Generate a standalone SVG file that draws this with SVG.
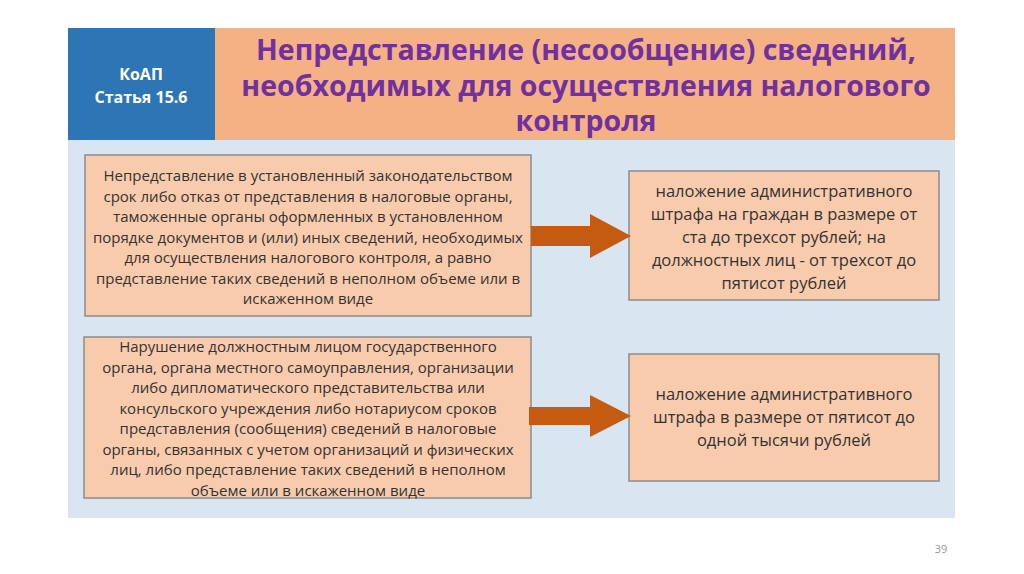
<svg xmlns="http://www.w3.org/2000/svg" width="1024" height="574" viewBox="0 0 1024 574">
<style>
.t{font-family:"Open Sans","Liberation Sans",sans-serif;text-anchor:middle}
.s{font-size:15px;fill:#333}
.r{font-size:16.5px;fill:#333}
.box{fill:#f8cbad;stroke:#8c8c8c;stroke-width:1.5}
.arr{fill:#c55a11}
</style>
<rect width="1024" height="574" fill="#fff"/>
<rect x="68" y="140" width="887" height="378" fill="#dae5f2"/>
<g id="header">
<rect x="68" y="28" width="147" height="112" fill="#2e75b6"/>
<rect x="215" y="28" width="740" height="112" fill="#f4b183"/>
<text class="t" x="141" y="80" font-size="16" font-weight="bold" fill="#fff">КоАП</text>
<text class="t" x="141" y="103" font-size="16" font-weight="bold" fill="#fff">Статья 15.6</text>
<text class="t" x="586" y="60" font-size="28.5" font-weight="bold" fill="#7030a0">Непредставление (несообщение) сведений,</text>
<text class="t" x="586" y="96" font-size="28.5" font-weight="bold" fill="#7030a0">необходимых для осуществления налогового</text>
<text class="t" x="586" y="131" font-size="28.5" font-weight="bold" fill="#7030a0">контроля</text>
</g>
<g id="n1">
<rect class="box" x="85" y="155" width="446" height="161"/>
<text class="t s" x="308"><tspan x="308" y="181">Непредставление в установленный законодательством</tspan><tspan x="308" y="202">срок либо отказ от представления в налоговые органы,</tspan><tspan x="308" y="222">таможенные органы оформленных в установленном</tspan><tspan x="308" y="243">порядке документов и (или) иных сведений, необходимых</tspan><tspan x="308" y="263">для осуществления налогового контроля, а равно</tspan><tspan x="308" y="284">представление таких сведений в неполном объеме или в</tspan><tspan x="308" y="304">искаженном виде</tspan></text>
</g>
<g id="n2">
<rect class="box" x="629" y="171" width="310" height="129"/>
<text class="t r" x="784"><tspan x="784" y="197">наложение административного</tspan><tspan x="784" y="220">штрафа на граждан в размере от</tspan><tspan x="784" y="243">ста до трехсот рублей; на</tspan><tspan x="784" y="266">должностных лиц - от трехсот до</tspan><tspan x="784" y="289">пятисот рублей</tspan></text>
</g>
<g id="n3">
<rect class="box" x="84" y="337" width="447" height="161"/>
<text class="t s" x="308"><tspan x="308" y="352">Нарушение должностным лицом государственного</tspan><tspan x="308" y="373">органа, органа местного самоуправления, организации</tspan><tspan x="308" y="393">либо дипломатического представительства или</tspan><tspan x="308" y="414">консульского учреждения либо нотариусом сроков</tspan><tspan x="308" y="434">представления (сообщения) сведений в налоговые</tspan><tspan x="308" y="455">органы, связанных с учетом организаций и физических</tspan><tspan x="308" y="475">лиц, либо представление таких сведений в неполном</tspan><tspan x="308" y="496">объеме или в искаженном виде</tspan></text>
</g>
<g id="n4">
<rect class="box" x="629" y="354" width="310" height="127"/>
<text class="t r" x="784"><tspan x="784" y="400">наложение административного</tspan><tspan x="784" y="423">штрафа в размере от пятисот до</tspan><tspan x="784" y="446">одной тысячи рублей</tspan></text>
</g>
<g id="connectors">
<path class="arr" d="M531 226 H590 V214 L631 236 L590 258 V246 H531 Z"/>
<path class="arr" d="M529 407 H590 V395 L631 416 L590 437 V425 H529 Z"/>
</g>
<text class="t" x="941" y="553" font-size="11" fill="#999">39</text>
</svg>
